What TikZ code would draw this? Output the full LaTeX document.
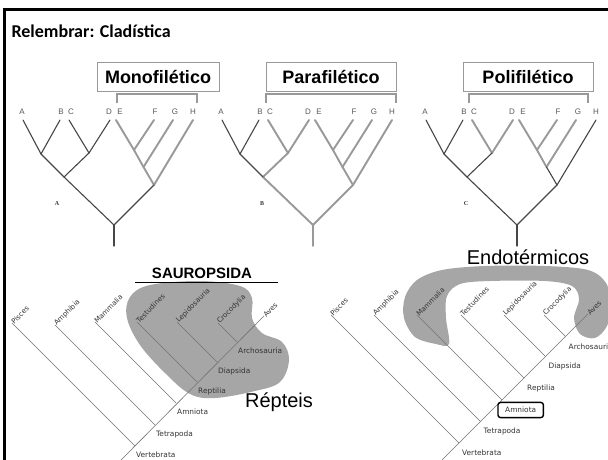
\documentclass[tikz,border=0pt]{standalone}
\usepackage{fontspec}
\setmainfont{Liberation Sans}
\newfontfamily\slidefont{Carlito}
\newfontfamily\tagfont{Liberation Serif}
\newfontfamily\smallfont{DejaVu Sans}
\usetikzlibrary{calc}
\tikzset{
  dk/.style={draw=black!72,line width=1.1pt,line cap=round},
  lt/.style={draw=black!40,line width=1.9pt,line cap=round},
  leaf/.style={font=\fontsize{8}{9}\selectfont,text=black!65,inner sep=0pt},
  grpbox/.style={draw=black!40,line width=0.8pt,fill=white,inner sep=0pt,
    minimum height=29pt,font=\fontsize{18}{20}\selectfont\bfseries},
  brk/.style={draw=black!40,line width=1.2pt},
  treetag/.style={font=\tagfont\bfseries\fontsize{6}{7}\selectfont,text=black!80},
  twig/.style={draw=black!55,line width=0.6pt},
  taxon/.style={font=\smallfont\fontsize{7}{8}\selectfont,text=black!80,rotate=45,
    anchor=west,inner sep=0.5pt},
  clade/.style={font=\smallfont\fontsize{7.4}{8}\selectfont,text=black!80,anchor=west,inner sep=0pt},
  blob/.style={fill=black!35},
  bigword/.style={font=\fontsize{20}{22}\selectfont}
}
% points of one of the three small trees
\newcommand{\cladepts}{%
  \foreach \n/\x in {A/23,B/60,C/69,D/110,E/116,F/154,G/173,H/193}
    \coordinate (\n) at (\x,120);
  \coordinate (AB) at (41,154);
  \coordinate (CD) at (89,153);
  \coordinate (ABCD) at (64,177);
  \coordinate (EF) at (134,150);
  \coordinate (EFG) at (143.5,167);
  \coordinate (EFGH) at (154,185);
  \coordinate (R) at (114,225);
  \coordinate (S) at (114,246);
  \foreach \n/\x in {A/22,B/61,C/71,D/109,E/120,F/155,G/175,H/193}
    \node[leaf] (l\n) at (\x,112) {\n};
}

\begin{document}
\begin{tikzpicture}[x=1pt,y=-1pt]
  \useasboundingbox (0,0) rectangle (608,459);
  \draw[line width=3pt] (4.5,470) -- (4.5,9.5) -- (620,9.5);
  \node[anchor=west,font=\slidefont\bfseries\fontsize{18}{20}\selectfont] (title) at (8,31) {Relembrar: Cladística};

  % monofiletico
  \begin{scope}[name prefix=m-]
    \cladepts
    \foreach \a/\b/\s in {E/EF/lt,EF/EFG/lt,EFG/EFGH/lt,F/EF/lt,G/EFG/lt,H/EFGH/lt,
        A/AB/dk,B/AB/dk,C/CD/dk,D/CD/dk,AB/ABCD/dk,CD/ABCD/dk,ABCD/R/dk,EFGH/R/dk,R/S/dk}
      \draw[\s] (\a) -- (\b);
    \node[treetag] (tag) at (57,204) {A};
    \node[grpbox,minimum width=122pt] (box) at (158,76.5) {Monofilético};
    \coordinate (bl) at (117,103);
    \coordinate (br) at (197,103);
    \draw[brk] (bl) -- ++(0,-9) -| (br);
  \end{scope}

  % parafiletico
  \begin{scope}[shift={(199,0)},name prefix=p-]
    \cladepts
    \foreach \a/\b/\s in {C/CD/lt,D/CD/lt,CD/ABCD/lt,ABCD/R/lt,E/EF/lt,EF/EFG/lt,EFG/EFGH/lt,
        F/EF/lt,G/EFG/lt,H/EFGH/lt,EFGH/R/lt,R/S/lt,A/AB/dk,B/AB/dk,AB/ABCD/dk}
      \draw[\s] (\a) -- (\b);
    \node[treetag] (tag) at (63,204) {B};
    \node[grpbox,minimum width=130pt] (box) at (132,76.5) {Parafilético};
    \coordinate (bl) at (67,103);
    \coordinate (br) at (197,103);
    \draw[brk] (bl) -- ++(0,-9) -| (br);
  \end{scope}

  % polifiletico
  \begin{scope}[shift={(403,0)},name prefix=q-]
    \cladepts
    \foreach \a/\b/\s in {C/CD/lt,D/CD/lt,E/EF/lt,EF/EFG/lt,F/EF/lt,G/EFG/lt,
        A/AB/dk,B/AB/dk,AB/ABCD/dk,CD/ABCD/dk,ABCD/R/dk,EFG/EFGH/dk,H/EFGH/dk,EFGH/R/dk,R/S/dk}
      \draw[\s] (\a) -- (\b);
    \node[treetag] (tag) at (63,204) {C};
    \node[grpbox,minimum width=130pt] (box) at (125,76.5) {Polifilético};
    \coordinate (bl) at (66,103);
    \coordinate (br) at (185,103);
    \draw[brk] (bl) -- ++(0,-9) -| (br);
  \end{scope}

  % sauropsida
  \fill[blob] plot[smooth cycle,tension=.6] coordinates {(130,297) (150,285) (200,281)
    (240,286) (252,298) (252,318) (262,333) (282,342) (289,360) (280,382) (255,391)
    (215,398) (190,394) (165,373) (140,345) (127,318)};
  \node[font=\bfseries\fontsize{15}{16}\selectfont] (saur) at (202,273) {SAUROPSIDA};
  \coordinate (ul1) at (135,282);
  \coordinate (ul2) at (278,282);
  \draw[line width=0.9pt] (ul1) -- (ul2);
  \coordinate (Lbase) at (120,461);
  \coordinate (Lav) at (264,316);
  \draw[twig] (Lbase) -- (Lav);
  \node[taxon] (Lavl) at (Lav) {Aves};
  \foreach \n/\tx/\ty/\jx/\jy/\c in {Pisces/12/323/135/446/Vertebrata,
      Amphibia/55/325/155/425/Tetrapoda,Mammalia/95/322/176/403/Amniota,
      Testudines/137/322/197/382/Reptilia,Lepidosauria/177/322/217/362/Diapsida,
      Crocodylia/218/323/237/342/Archosauria}{
    \coordinate (L\n-t) at (\tx,\ty);
    \coordinate (L\n-j) at (\jx,\jy);
    \draw[twig] (L\n-t) -- (L\n-j);
    \node[taxon] (L\n) at (L\n-t) {\n};
    \node[clade] (L\c) at ($(L\n-j)+(1,9)$) {\c};
  }
  \node[bigword] (rept) at (279,402) {Répteis};

  % endotermicos
  \fill[blob] plot[smooth cycle,tension=.55] coordinates {(449,344) (436,344) (415,337)
    (404,318) (405,297) (417,280) (442,270) (485,266) (545,266) (588,270) (606,283)
    (611,305) (607,326) (595,338) (580,334) (574,318) (579,299) (572,286) (545,281)
    (490,281) (460,284) (447,296) (446,318)};
  \node[bigword] (endo) at (528,257) {Endotérmicos};
  \coordinate (Rbase) at (442,460);
  \coordinate (Rav) at (588,314);
  \draw[twig] (Rbase) -- (Rav);
  \node[taxon] (Ravl) at (Rav) {Aves};
  \foreach \n/\tx/\ty/\jx/\jy/\c in {Pisces/331/315/459/443/Vertebrata,
      Amphibia/374/315/480.5/421.5/Tetrapoda,Mammalia/417/315/502/400/Amniota,
      Testudines/461/315/524/378/Reptilia,Lepidosauria/504/315/545.5/356.5/Diapsida,
      Crocodylia/544/315/565.5/336.5/Archosauria}{
    \coordinate (R\n-t) at (\tx,\ty);
    \coordinate (R\n-j) at (\jx,\jy);
    \draw[twig] (R\n-t) -- (R\n-j);
    \node[taxon] (R\n) at (R\n-t) {\n};
    \node[clade] (R\c) at ($(R\n-j)+(3,10)$) {\c};
  }
  \draw[line width=1.4pt,rounded corners=2.5pt] ($(RAmniota.south west)+(-7,4.5)$)
    rectangle ($(RAmniota.north east)+(7,-4.5)$);
\end{tikzpicture}
\end{document}
